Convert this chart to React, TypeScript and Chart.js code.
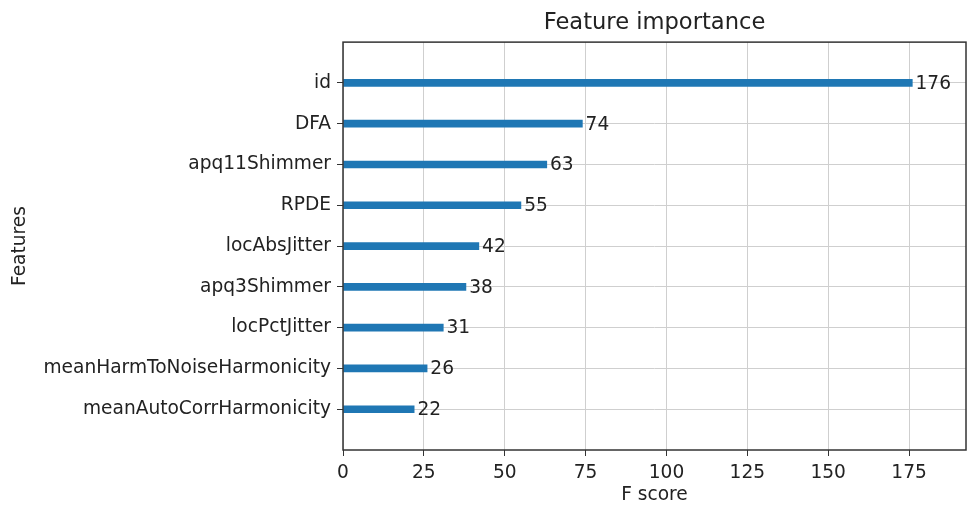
import React, { useEffect, useRef } from 'react';
import { Chart, registerables } from 'chart.js';

Chart.register(...registerables);

// feature importance values, top to bottom
const features = [
  'id',
  'DFA',
  'apq11Shimmer',
  'RPDE',
  'locAbsJitter',
  'apq3Shimmer',
  'locPctJitter',
  'meanHarmToNoiseHarmonicity',
  'meanAutoCorrHarmonicity',
];
const fScores = [176, 74, 63, 55, 42, 38, 31, 26, 22];
const xTicks = [0, 25, 50, 75, 100, 125, 150, 175];

const FONT = "'DejaVu Sans', 'Liberation Sans', sans-serif";
const TEXT = '#222222';
const SPINE = '#333333';
const GRID = '#cfcfcf';
const FS = 18.6;

// frame around the plot area + value labels next to the bars
const annotate = {
  id: 'annotate',
  afterDatasetsDraw(chart: any) {
    const { ctx, chartArea } = chart;
    const xScale = chart.scales.x;
    ctx.save();
    ctx.strokeStyle = SPINE;
    ctx.lineWidth = 1.5;
    ctx.strokeRect(
      chartArea.left,
      chartArea.top,
      chartArea.right - chartArea.left,
      chartArea.bottom - chartArea.top
    );
    ctx.fillStyle = TEXT;
    ctx.font = `${FS}px ${FONT}`;
    ctx.textAlign = 'left';
    ctx.textBaseline = 'middle';
    const meta = chart.getDatasetMeta(0);
    meta.data.forEach((bar: any, i: number) => {
      const v = fScores[i];
      ctx.fillText(String(v), xScale.getPixelForValue(v + 1), bar.y + 1);
    });
    ctx.restore();
  },
};

const App: React.FC = () => {
  const canvasRef = useRef<HTMLCanvasElement | null>(null);

  useEffect(() => {
    if (!canvasRef.current) return;
    const chart = new Chart(canvasRef.current, {
      type: 'bar',
      data: {
        datasets: [
          {
            data: features.map((_, i) => ({ x: fScores[i], y: i })),
            backgroundColor: '#1f77b4',
            borderColor: '#1f77b4',
            borderWidth: 0,
            barThickness: 7,
          },
        ],
      },
      options: {
        indexAxis: 'y',
        responsive: false,
        animation: false,
        devicePixelRatio: 1,
        layout: { padding: { left: 0, right: 2, top: 0, bottom: 0 } },
        scales: {
          x: {
            type: 'linear',
            min: 0,
            max: 192.6,
            offset: false,
            afterBuildTicks: (scale: any) => {
              scale.ticks = xTicks.map((v) => ({ value: v }));
            },
            afterFit: (scale: any) => {
              scale.height = 58;
            },
            border: { display: false },
            grid: { color: GRID, lineWidth: 1, tickColor: SPINE, tickLength: 6, drawTicks: true, offset: false },
            ticks: { color: TEXT, font: { family: FONT, size: FS }, padding: 6, maxRotation: 0 },
            title: {
              display: true,
              text: 'F score',
              color: TEXT,
              font: { family: FONT, size: FS },
              padding: { top: 0, bottom: 2 },
            },
          },
          y: {
            type: 'linear',
            min: -1,
            max: 9,
            reverse: true,
            offset: false,
            afterBuildTicks: (scale: any) => {
              scale.ticks = features.map((_, i) => ({ value: i }));
            },
            afterFit: (scale: any) => {
              scale.width = 343;
            },
            border: { display: false },
            grid: { color: GRID, lineWidth: 1, tickColor: SPINE, tickLength: 6, drawTicks: true, offset: false },
            ticks: {
              color: TEXT,
              font: { family: FONT, size: FS },
              padding: 6,
              callback: (v: any) => features[v] ?? '',
            },
            title: {
              display: true,
              text: 'Features',
              color: TEXT,
              font: { family: FONT, size: FS },
              padding: { top: 9, bottom: 0 },
            },
          },
        },
        plugins: {
          legend: { display: false },
          tooltip: { enabled: false },
          title: {
            display: true,
            text: 'Feature importance',
            color: TEXT,
            fullSize: false,
            font: { family: FONT, size: 22.6, weight: 'normal' },
            padding: { top: 10, bottom: 5 },
          },
        },
      },
      plugins: [annotate],
    } as any);
    return () => chart.destroy();
  }, []);

  return (
    <div style={{ position: 'fixed', left: 0, top: 0, width: 968, height: 508, background: '#fff' }}>
      <canvas ref={canvasRef} width={968} height={508} />
    </div>
  );
};

export default App;
